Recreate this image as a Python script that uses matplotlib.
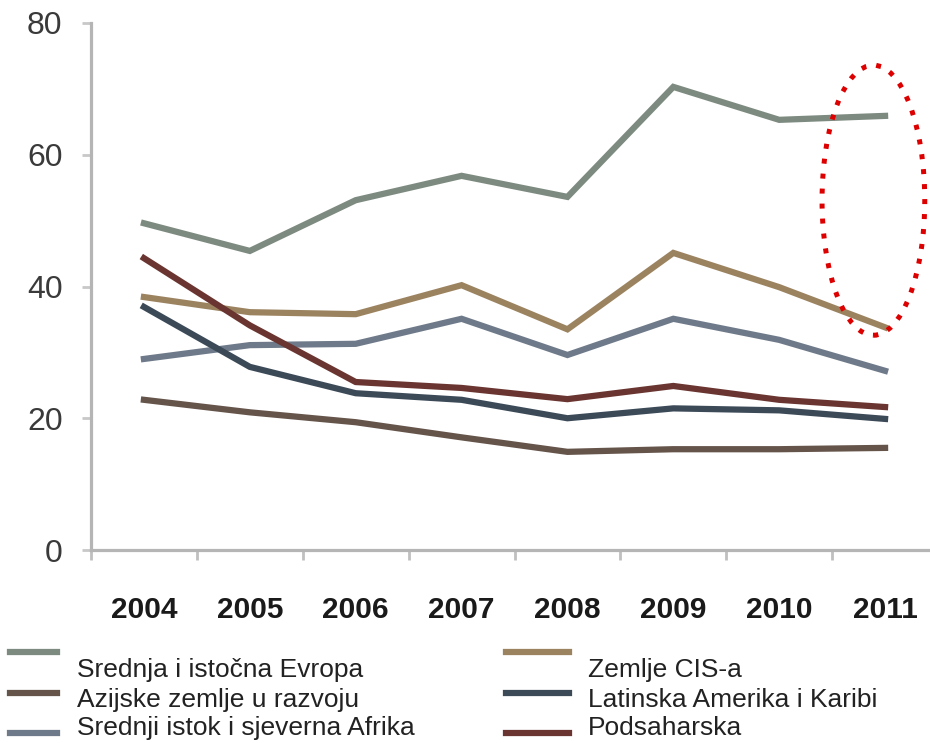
import matplotlib
matplotlib.use('Agg')
import matplotlib.pyplot as plt
from matplotlib.patches import Ellipse
from matplotlib.lines import Line2D

plt.rcParams['font.family'] = ['Liberation Sans', 'DejaVu Sans']

years = ['2004', '2005', '2006', '2007', '2008', '2009', '2010', '2011']
evropa = [49.6, 45.4, 53.1, 56.8, 53.6, 70.3, 65.3, 65.9]
cis = [38.4, 36.1, 35.8, 40.2, 33.5, 45.1, 39.9, 33.8]
istok = [29.0, 31.1, 31.3, 35.1, 29.6, 35.1, 31.9, 27.2]
latinska = [36.9, 27.8, 23.8, 22.8, 20.0, 21.5, 21.2, 19.9]
podsaharska = [44.3, 34.1, 25.5, 24.6, 22.9, 24.9, 22.8, 21.7]
azijske = [22.8, 20.9, 19.4, 17.1, 14.9, 15.3, 15.3, 15.5]

series = [
    ('Srednja i istočna Evropa', evropa, '#7d8a80'),
    ('Azijske zemlje u razvoju', azijske, '#65544a'),
    ('Srednji istok i sjeverna Afrika', istok, '#6e7a89'),
    ('Zemlje CIS-a', cis, '#9c8360'),
    ('Latinska Amerika i Karibi', latinska, '#3c4a58'),
    ('Podsaharska', podsaharska, '#6a3530'),
]

W, H = 930, 743
fig = plt.figure(figsize=(9.3, 7.43), dpi=100)
ax = fig.add_axes([91 / W, (H - 550) / H, 847 / W, 527 / H])

x = list(range(len(years)))
for name, vals, col in series:
    ax.plot(x, vals, color=col, lw=4.5, solid_joinstyle='miter')

ax.add_patch(Ellipse((6.89, 53.1), 0.97, 41.0, fill=False, edgecolor='#dd0000',
                     lw=3.6, linestyle=(0, (1, 2)), zorder=5))

ax.set_xlim(-0.5, 7.5)
ax.set_ylim(0, 80)
ax.set_yticks([0, 20, 40, 60, 80])
ax.set_xticks(x)
ax.set_xticklabels(years, fontsize=21.5, fontweight='bold', color='#1a1a1a')
ax.set_xticks([i - 0.5 for i in range(len(years) + 1)], minor=True)
ax.tick_params(axis='x', which='major', length=0, pad=33)
ax.tick_params(axis='x', which='minor', length=7, width=2, color='#c0c0c0', direction='out')
ax.tick_params(axis='y', length=6.5, width=2, color='#c8c8c8', pad=14,
               labelsize=23, labelcolor='#3a3a3a')

for s in ['top', 'right']:
    ax.spines[s].set_visible(False)
for s in ['left', 'bottom']:
    ax.spines[s].set_color('#b5b5b5')
    ax.spines[s].set_linewidth(2.3)

# legend, laid out like the original
line_rows = [652, 693, 733]
text_rows = [677, 707, 735]
cols = [(10, 57, 77), (506, 569, 588)]
for i, (name, vals, col) in enumerate(series):
    c, r = divmod(i, 3)
    x0, x1, tx = cols[c]
    yl = 1 - line_rows[r] / H
    fig.add_artist(Line2D([x0 / W, x1 / W], [yl, yl], color=col, lw=4.5))
    fig.text(tx / W, 1 - text_rows[r] / H, name, fontsize=19, color='#222222',
             ha='left', va='baseline')

fig.savefig('out.png', dpi=100)
